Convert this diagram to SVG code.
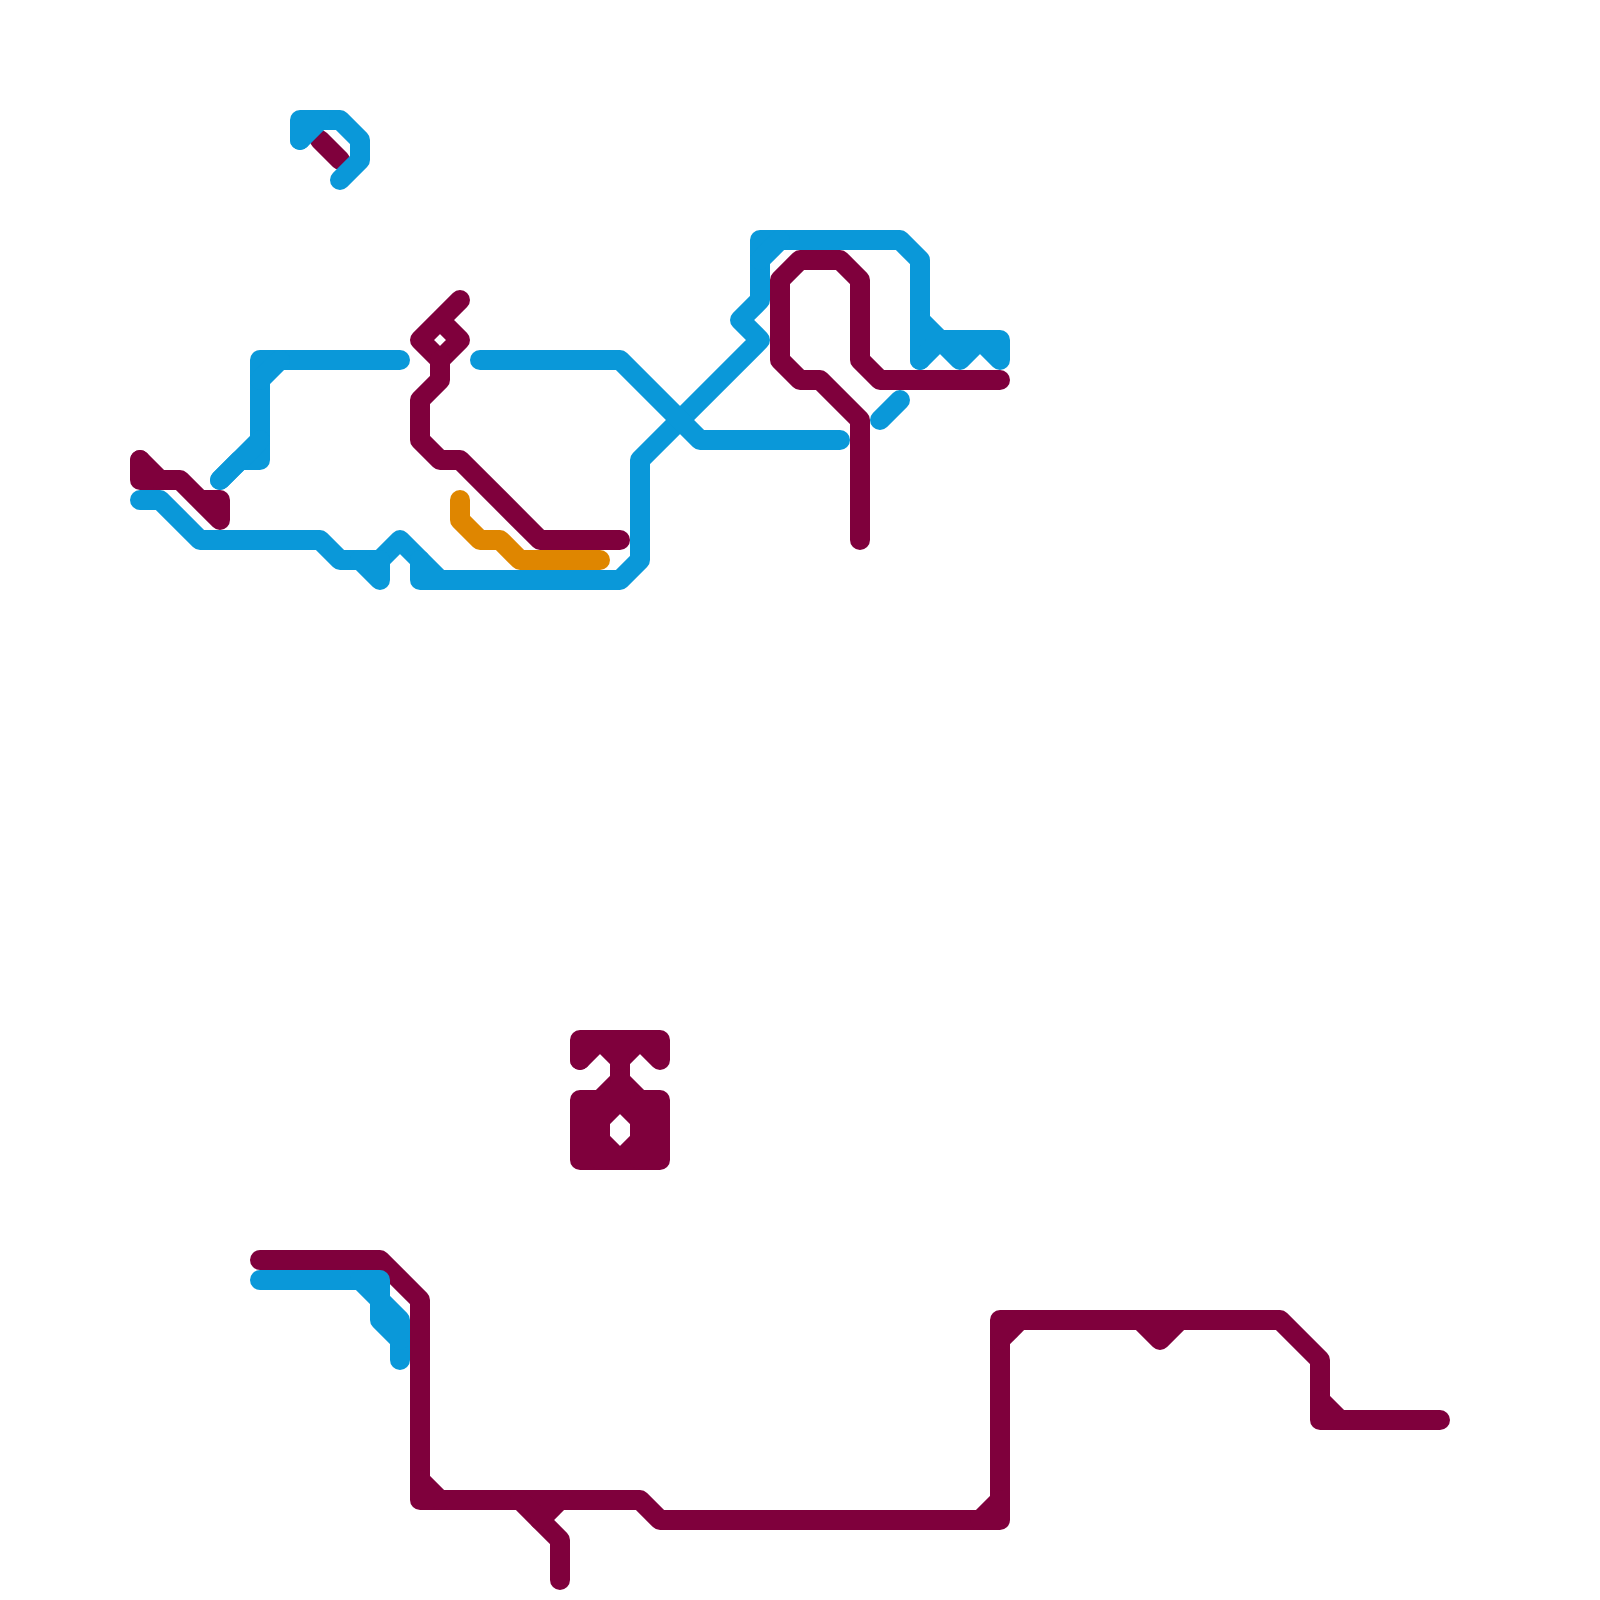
<svg xmlns="http://www.w3.org/2000/svg" width="1600" height="1600" viewBox="0 0 1600 1600">
<style>
.l{fill:none;stroke-width:20;stroke-linecap:round;stroke-linejoin:round}
.c{stroke:#7f003c}
.b{stroke:#0a98d9}
.o{stroke:#df8600}
</style>
<rect width="1600" height="1600" fill="#ffffff"/>
<g id="crimson-line" class="l c">
<path d="M320 140L340 160"/>
<path d="M140 460V480H180L220 520V500H200"/>
<path d="M140 460L160 480"/>
<path d="M460 300L420 340L440 360L460 340L440 320"/>
<path d="M440 360V380L420 400V440L440 460H460L540 540H620"/>
<path d="M860 540V420L820 380H800L780 360V280L800 260H840L860 280V360L880 380H1000"/>
<path d="M580 1060V1040H660V1060L640 1040L620 1060V1080L600 1100"/>
<path d="M580 1060L600 1040L620 1060"/>
<path d="M620 1080L640 1100"/>
<path d="M620 1100L640 1120V1140L620 1160L600 1140V1120Z"/>
<path d="M580 1100H660V1160H580Z"/>
<path d="M600 1100V1160M640 1100V1160"/>
<path d="M260 1260H380L420 1300V1500H640L660 1520H1000V1320H1280L1320 1360V1420H1440"/>
<path d="M420 1480L440 1500"/>
<path d="M520 1500L560 1540V1580"/>
<path d="M560 1500L540 1520"/>
<path d="M980 1520L1000 1500"/>
<path d="M1000 1340L1020 1320"/>
<path d="M1140 1320L1160 1340L1180 1320"/>
<path d="M1320 1400L1340 1420"/>
</g>
<g id="blue-line" class="l b">
<path d="M300 140V120H340L360 140V160L340 180"/>
<path d="M300 140L320 120"/>
<path d="M400 360H260V460H240L220 480"/>
<path d="M260 380L280 360"/>
<path d="M220 480L260 440"/>
<path d="M140 500H160L200 540H320L340 560H380L400 540L440 580"/>
<path d="M360 560L380 580V560"/>
<path d="M420 560V580H620L640 560V460L760 340L740 320L760 300V240H900L920 260V360"/>
<path d="M760 260L780 240"/>
<path d="M480 360H620L700 440H840"/>
<path d="M920 320L940 340H1000V360L980 340L960 360L940 340L920 360"/>
<path d="M880 420L900 400"/>
<path d="M260 1280H380V1320L400 1340V1360"/>
<path d="M360 1280L400 1320V1340"/>
</g>
<g id="orange-line" class="l o">
<path d="M460 500V520L480 540H500L520 560H600"/>
</g>
</svg>
